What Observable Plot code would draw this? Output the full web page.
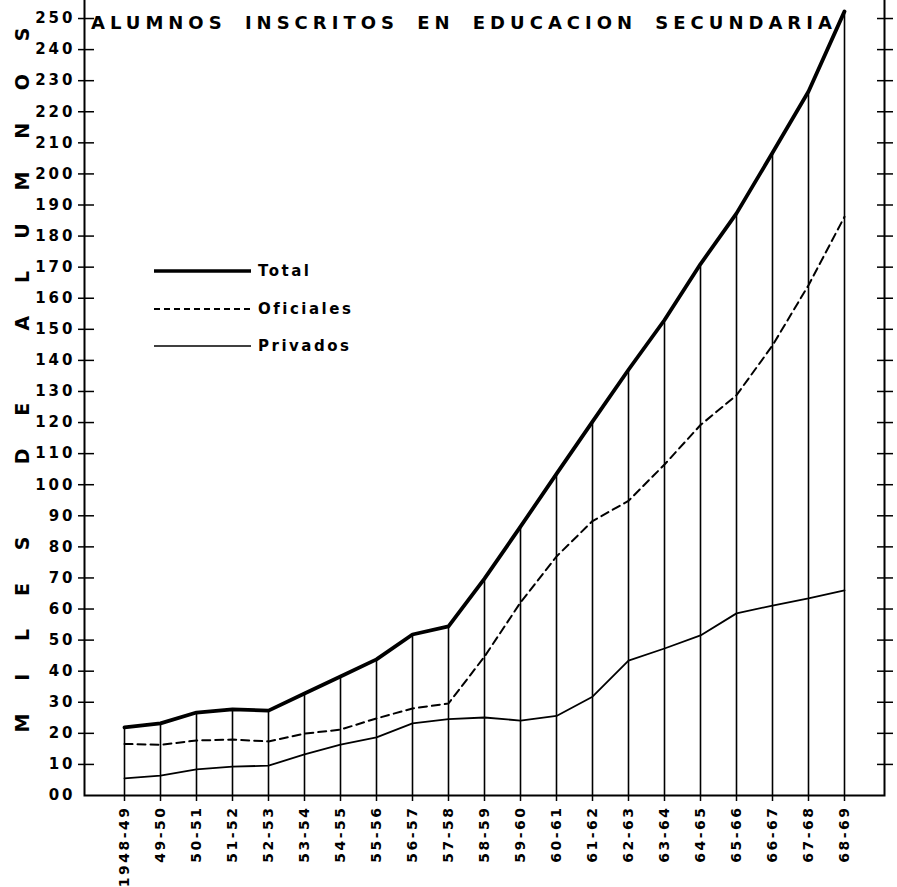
<!DOCTYPE html>
<html>
<head>
<meta charset="utf-8">
<script src="https://cdn.jsdelivr.net/npm/d3@7"></script>
<script src="https://cdn.jsdelivr.net/npm/@observablehq/plot@0.6"></script>
<style>
  body { margin: 0; background: #fff; }
  #wrap { position: relative; width: 897px; height: 887px; overflow: hidden; background: #fff; }
  #overlay { position: absolute; left: 0; top: 0; pointer-events: none; }
</style>
</head>
<body>
<div id="wrap"></div>
<script>
// ---- data (miles de alumnos) ----
const periods = ["1948-49","49-50","50-51","51-52","52-53","53-54","54-55","55-56","56-57","57-58",
                 "58-59","59-60","60-61","61-62","62-63","63-64","64-65","65-66","66-67","67-68","68-69"];
const total     = [21.9, 23.2, 26.7, 27.7, 27.3, 32.8, 38.3, 43.8, 51.8, 54.4,
                   69.8, 86.5, 103.5, 120.3, 137.0, 153.0, 171.0, 187.3, 206.8, 226.5, 252.3];
const oficiales = [16.6, 16.3, 17.7, 18.0, 17.4, 19.9, 21.2, 24.8, 28.0, 29.6,
                   44.7, 62.1, 76.9, 88.3, 94.8, 106.5, 119.2, 128.8, 144.8, 164.2, 186.2];
const privados  = [5.5, 6.4, 8.4, 9.3, 9.6, 13.2, 16.4, 18.7, 23.2, 24.6,
                   25.1, 24.1, 25.6, 31.8, 43.4, 47.3, 51.5, 58.6, 61.1, 63.4, 66.0];
const yTicks = d3.range(10, 251, 10);
const titleText = "ALUMNOS INSCRITOS EN EDUCACION SECUNDARIA";
const yLabelText = "MILES DE ALUMNOS";
const legendLabels = ["Total", "Oficiales", "Privados"];

const data = periods.map((p, i) => ({period: p, total: total[i], oficiales: oficiales[i], privados: privados[i]}));

const chart = Plot.plot({
  width: 897,
  height: 887,
  marginLeft: 84,
  marginRight: 13,
  marginTop: 0,
  marginBottom: 92,
  style: {fontFamily: "'DejaVu Sans', sans-serif", fontWeight: "bold", background: "#fff", color: "#000"},
  x: {type: "point", domain: periods, padding: 1, label: null},
  y: {domain: [0, 255.8], label: null},
  marks: [
    Plot.frame({insetTop: -4, strokeWidth: 2}),
    Plot.axisY({ticks: yTicks, anchor: "left", tickSize: 16, dx: 10, tickPadding: 3, fontSize: 15, strokeWidth: 1.5, label: null}),
    Plot.axisY({ticks: [0], anchor: "left", tickSize: 0, tickPadding: 9, fontSize: 15, tickFormat: () => "00", label: null}),
    Plot.axisY({ticks: yTicks, anchor: "right", tickSize: 16, dx: -8, strokeWidth: 1.5, tickFormat: () => "", label: null}),
    Plot.axisX({anchor: "bottom", tickSize: 6, tickRotate: -90, tickPadding: 4, fontSize: 14, strokeWidth: 1.5, label: null}),
    Plot.ruleX(data, {x: "period", y1: 0, y2: "total", strokeWidth: 1.6}),
    Plot.lineY(data, {x: "period", y: "privados", strokeWidth: 1.8}),
    Plot.lineY(data, {x: "period", y: "oficiales", strokeWidth: 2, strokeDasharray: "8,5"}),
    Plot.lineY(data, {x: "period", y: "total", strokeWidth: 3.8, strokeLinejoin: "round"})
  ]
});

const wrap = document.getElementById("wrap");
wrap.appendChild(chart);
const svgSel = d3.select(chart.tagName.toLowerCase() === "svg" ? chart : chart.querySelector("svg"));
svgSel.selectAll('g[aria-label="y-axis tick label"]').style("letter-spacing", "3px");
svgSel.selectAll('g[aria-label="x-axis tick label"]').style("letter-spacing", "2.5px");

// ---- overlay: title, y label, legend ----
const ov = d3.select(wrap).append("svg")
  .attr("id", "overlay")
  .attr("width", 897).attr("height", 887)
  .style("font-family", "'DejaVu Sans', sans-serif")
  .style("font-weight", "bold");

ov.append("text")
  .attr("x", 91).attr("y", 29)
  .attr("font-size", 18)
  .style("letter-spacing", "5px")
  .style("word-spacing", "7px")
  .text(titleText);

ov.append("text")
  .attr("transform", "translate(22,380) rotate(-90)")
  .attr("text-anchor", "middle")
  .attr("dominant-baseline", "central")
  .attr("font-size", 19)
  .attr("textLength", 705).attr("lengthAdjust", "spacing")
  .text(yLabelText);

const legStyles = [
  {w: 3.5, dash: null},
  {w: 1.8, dash: "6,4"},
  {w: 1.6, dash: null}
];
const legY = [271, 309, 346];
legendLabels.forEach((lab, i) => {
  const g = ov.append("g").attr("transform", `translate(0,${legY[i]})`);
  g.append("line").attr("x1", 154).attr("x2", 251).attr("y1", 0).attr("y2", 0)
    .attr("stroke", "#000").attr("stroke-width", legStyles[i].w)
    .attr("stroke-dasharray", legStyles[i].dash);
  g.append("text").attr("x", 258).attr("y", 0)
    .attr("dominant-baseline", "central")
    .attr("font-size", 15)
    .style("letter-spacing", "2.5px")
    .text(lab);
});
</script>
</body>
</html>
